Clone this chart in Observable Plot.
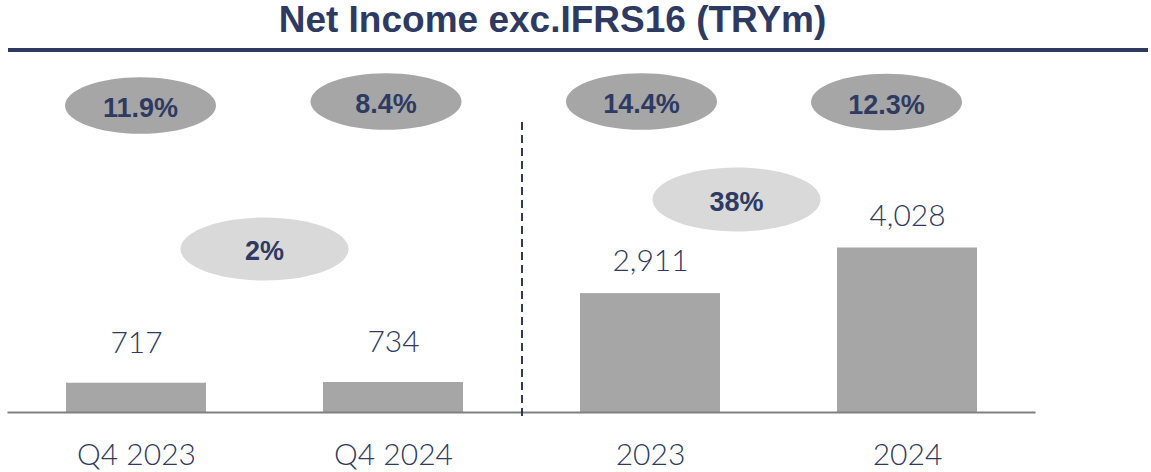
<!DOCTYPE html>
<html><head><meta charset="utf-8">
<script src="https://cdn.jsdelivr.net/npm/d3@7"></script>
<script src="https://cdn.jsdelivr.net/npm/@observablehq/plot@0.6"></script>
<style>
html,body{margin:0;padding:0;background:#fff;}
body{width:1151px;height:472px;overflow:hidden;}
#title{height:48px;line-height:40px;text-align:center;padding-right:46px;font-family:"Liberation Sans",Arial,sans-serif;font-weight:bold;font-size:37px;color:#2E3A62;white-space:nowrap;}
#rule{margin:0 3px 0 8px;height:4px;background:#2E3A62;}
#chart svg{display:block;}
</style></head><body>
<div id="title">Net Income exc.IFRS16 (TRYm)</div>
<div id="rule"></div>
<div id="chart"></div>
<script>
// ---- data ----
const categories = ["Q4 2023", "Q4 2024", "2023", "2024"];
const netIncome = [717, 734, 2911, 4028];
const netMargin = ["11.9%", "8.4%", "14.4%", "12.3%"];
const growthLabels = ["2%", "38%"];
const growthFrom = ["Q4 2023", "2023"];

// ---- layout / style ----
const NAVY = "#2E3A62";
const LIGHT = "Lato, 'Liberation Sans', sans-serif";
const BOLD = "'Liberation Sans', Arial, sans-serif";
const marginLayout = [{dx: 4, dy: 53}, {dx: -7.5, dy: 49}, {dx: -9, dy: 49}, {dx: -21, dy: 49.5}];
const growthLayout = [{dx: 128, dy: 196.5, r: 84, ratio: 0.375}, {dx: 86, dy: 147, r: 84, ratio: 0.38}];

function ellipse(ratio) {
  return {
    draw(ctx, size) {
      const rx = Math.sqrt(size / Math.PI), ry = rx * ratio, k = 0.5522847;
      ctx.moveTo(rx, 0);
      ctx.bezierCurveTo(rx, ry * k, rx * k, ry, 0, ry);
      ctx.bezierCurveTo(-rx * k, ry, -rx, ry * k, -rx, 0);
      ctx.bezierCurveTo(-rx, -ry * k, -rx * k, -ry, 0, -ry);
      ctx.bezierCurveTo(rx * k, -ry, rx, -ry * k, rx, 0);
      ctx.closePath();
    }
  };
}

const rows = categories.map((c, i) => ({cat: c, value: netIncome[i], margin: netMargin[i]}));
const growth = growthLabels.map((g, i) => ({cat: growthFrom[i], label: g}));

const pxPerUnit = 164.5 / 4028;
const H = 420, MB = 60;
const yMax = (H - MB) / pxPerUnit;

const marks = [];
marks.push(Plot.barY(rows, {x: "cat", y: "value", fill: "#A6A6A6"}));
marks.push(Plot.ruleY([0], {stroke: "#808080", strokeWidth: 2}));
marks.push(Plot.ruleX(["2023"], {x: d => d, dx: -128.5, y1: -98, y2: 7150, stroke: NAVY, strokeWidth: 2, strokeDasharray: "8,5"}));
marks.push(Plot.text(rows.slice(0, 2), {x: "cat", y: "value", text: d => d3.format(",")(d.value), dy: -40, fill: NAVY, fontSize: 30, fontWeight: 300, fontFamily: LIGHT}));
marks.push(Plot.text(rows.slice(2), {x: "cat", y: "value", text: d => d3.format(",")(d.value), dy: -32, fill: NAVY, fontSize: 30, fontWeight: 300, fontFamily: LIGHT}));
rows.forEach((d, i) => {
  const L = marginLayout[i];
  marks.push(Plot.dot([d], {x: "cat", frameAnchor: "top", dy: L.dy, dx: L.dx, r: 75.5, symbol: ellipse(0.375), fill: "#A6A6A6", stroke: "none"}));
  marks.push(Plot.text([d], {x: "cat", frameAnchor: "top", lineAnchor: "middle", dy: L.dy + 3, dx: L.dx, text: "margin", fill: NAVY, fontSize: 27, fontWeight: "bold", fontFamily: BOLD}));
});
growth.forEach((d, i) => {
  const L = growthLayout[i];
  marks.push(Plot.dot([d], {x: "cat", frameAnchor: "top", dy: L.dy, dx: L.dx, r: L.r, symbol: ellipse(L.ratio), fill: "#D9D9D9", stroke: "none"}));
  marks.push(Plot.text([d], {x: "cat", frameAnchor: "top", lineAnchor: "middle", dy: L.dy + 2.5, dx: L.dx, text: "label", fill: NAVY, fontSize: 27, fontWeight: "bold", fontFamily: BOLD}));
});
marks.push(Plot.axisX({tickSize: 0, tickPadding: 31, fontSize: 30, fontWeight: 300, fill: NAVY, fontFamily: LIGHT, label: null}));

const chart = Plot.plot({
  width: 1151,
  height: H,
  marginTop: 0,
  marginBottom: MB,
  marginLeft: 7.5,
  marginRight: 115.5,
  x: {domain: categories, paddingInner: 0.455, paddingOuter: 0.2275, axis: null},
  y: {domain: [0, yMax], axis: null},
  style: {background: "white", color: NAVY, fontFamily: LIGHT},
  marks
});
document.getElementById("chart").appendChild(chart);
</script>
</body></html>
